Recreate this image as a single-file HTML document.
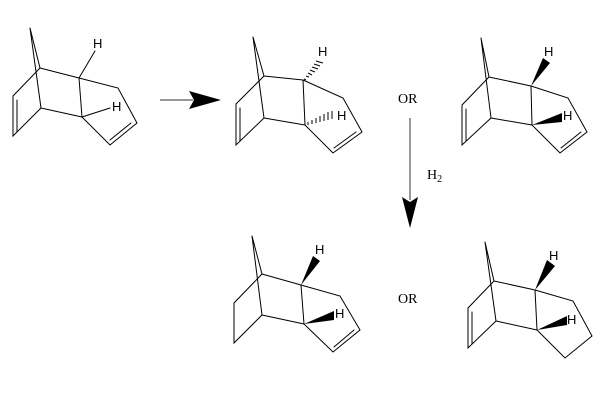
<!DOCTYPE html>
<html><head><meta charset="utf-8"><style>
html,body{margin:0;padding:0;background:#fff;}
svg{display:block}
text{font-family:"Liberation Sans",sans-serif;font-size:13px;fill:#000}
.s{font-family:"Liberation Serif",serif;font-size:14px}
</style></head><body>
<svg width="612" height="401" viewBox="0 0 612 401" xmlns="http://www.w3.org/2000/svg">
<g stroke="#000" stroke-width="1" fill="none" stroke-linecap="round">
<!-- Mol 1 -->
<path d="M30 28L40 68M30 28L41 108M40 68L13 96L13 136L41 108M17 100L17 132M40 68L79 78M41 108L82 117M79 78L82 117M79 78L118 88L137 123L110 145L82 117M131 123L110 140M79 78L95 51M82 117L110 108"/>
<!-- Mol 2 -->
<path d="M253 37L264 76M253 37L264 118M264 76L236 104L236 145L264 118M240 108L240 141M264 76L303 80M264 118L305 125M303 80L305 125M303 80L343 98L362 132L333 153L305 125M356 132L334 148"/>
<!-- Mol 3 -->
<path d="M481 38L489 77M481 38L491 118M489 77L462 105L462 145L491 118M466 109L466 141M489 77L531 86M491 118L532 125M531 86L532 125M531 86L568 98L587 132L560 153L532 125M581 132L561 148"/>
<!-- Mol 4 -->
<path d="M252 236L262 274M252 236L262 315M262 274L234 303L234 343L262 315M262 274L301 285M262 315L304 324M301 285L304 324M301 285L340 296L360 330L333 352L304 324M354 330L334 347"/>
<!-- Mol 5 -->
<path d="M485 242L494 281M485 242L496 321M494 281L468 308L468 348L496 321M472 312L472 344M494 281L535 290M496 321L537 330M535 290L537 330M535 290L573 301L592 336L565 358L537 330"/>
</g>
<!-- hashed bonds mol2 -->
<g stroke="#000" stroke-width="1">
<path d="M304 79L306 80M306 76L309 77M308 73L312 75M310 70L315 72M312 67L318 69M314 64L320 66M316 61L323 63"/>
<path d="M308 125L308 122M312 124L312 120M316 123L316 118M320 122L320 116M324 121L324 114M328 120L328 112M332 119L332 111"/>
</g>
<!-- wedges -->
<g fill="#000">
<polygon points="531,86 543,58 550,63"/>
<polygon points="532,125 562,113 562,122"/>
<polygon points="301,285 313,256 320,261"/>
<polygon points="304,324 334,311 334,320"/>
<polygon points="535,290 547,260 555,266"/>
<polygon points="537,330 567,316 567,325"/>
</g>
<!-- H labels -->
<text x="93" y="48">H</text>
<text x="112" y="111">H</text>
<text x="318" y="56">H</text>
<text x="337" y="120">H</text>
<text x="544" y="56">H</text>
<text x="563" y="120">H</text>
<text x="315" y="254">H</text>
<text x="335" y="318">H</text>
<text x="549" y="260">H</text>
<text x="567" y="324">H</text>
<!-- arrows -->
<line x1="160" y1="100" x2="193" y2="100" stroke="#777" stroke-width="1.5"/>
<polygon points="189,91 221,100 189,109 194,100" fill="#000"/>
<line x1="410" y1="118" x2="410" y2="200" stroke="#777" stroke-width="1.5"/>
<polygon points="402,197 410,228 418,197 410,202" fill="#000"/>
<text class="s" x="398" y="103">OR</text>
<text class="s" x="398" y="303">OR</text>
<text class="s" x="427" y="179">H<tspan font-size="10" dy="3">2</tspan></text>
</svg>
</body></html>
